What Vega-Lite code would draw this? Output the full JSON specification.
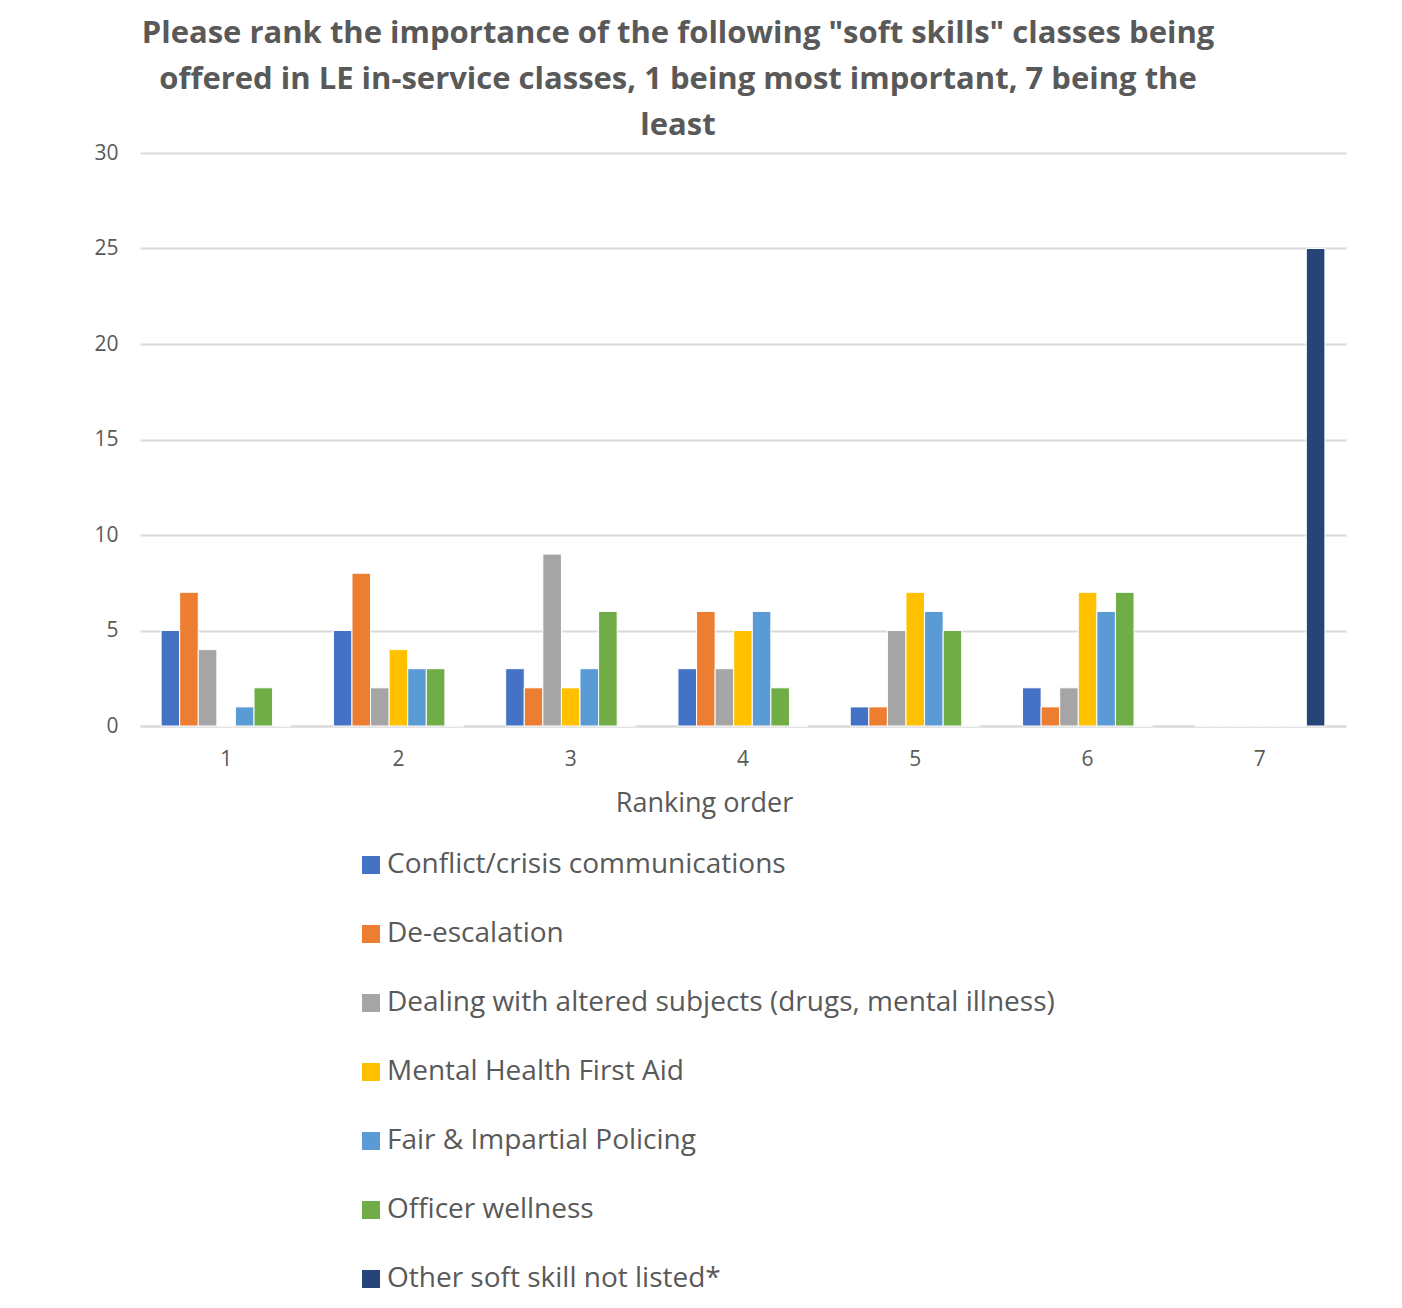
{
  "$schema": "https://vega.github.io/schema/vega-lite/v6.json",
  "width": 1206,
  "height": 573,
  "autosize": {"type": "none"},
  "padding": {"left": 140, "top": 153, "right": 56, "bottom": 582},
  "background": "white",
  "title": {
    "text": [
      "Please rank the importance of the following \"soft skills\" classes being",
      "offered in LE in-service classes, 1 being most important, 7 being the",
      "least"
    ],
    "font": "Open Sans",
    "fontSize": 31,
    "fontWeight": "bold",
    "color": "#595959",
    "lineHeight": 46,
    "anchor": "middle",
    "dx": -65,
    "offset": 0
  },
  "data": {
    "values": [
      {"rank": "1", "skill": "Conflict/crisis communications", "count": 5},
      {"rank": "1", "skill": "De-escalation", "count": 7},
      {"rank": "1", "skill": "Dealing with altered subjects (drugs, mental illness)", "count": 4},
      {"rank": "1", "skill": "Mental Health First Aid", "count": 0},
      {"rank": "1", "skill": "Fair & Impartial Policing", "count": 1},
      {"rank": "1", "skill": "Officer wellness", "count": 2},
      {"rank": "1", "skill": "Other soft skill not listed*", "count": 0},
      {"rank": "2", "skill": "Conflict/crisis communications", "count": 5},
      {"rank": "2", "skill": "De-escalation", "count": 8},
      {"rank": "2", "skill": "Dealing with altered subjects (drugs, mental illness)", "count": 2},
      {"rank": "2", "skill": "Mental Health First Aid", "count": 4},
      {"rank": "2", "skill": "Fair & Impartial Policing", "count": 3},
      {"rank": "2", "skill": "Officer wellness", "count": 3},
      {"rank": "2", "skill": "Other soft skill not listed*", "count": 0},
      {"rank": "3", "skill": "Conflict/crisis communications", "count": 3},
      {"rank": "3", "skill": "De-escalation", "count": 2},
      {"rank": "3", "skill": "Dealing with altered subjects (drugs, mental illness)", "count": 9},
      {"rank": "3", "skill": "Mental Health First Aid", "count": 2},
      {"rank": "3", "skill": "Fair & Impartial Policing", "count": 3},
      {"rank": "3", "skill": "Officer wellness", "count": 6},
      {"rank": "3", "skill": "Other soft skill not listed*", "count": 0},
      {"rank": "4", "skill": "Conflict/crisis communications", "count": 3},
      {"rank": "4", "skill": "De-escalation", "count": 6},
      {"rank": "4", "skill": "Dealing with altered subjects (drugs, mental illness)", "count": 3},
      {"rank": "4", "skill": "Mental Health First Aid", "count": 5},
      {"rank": "4", "skill": "Fair & Impartial Policing", "count": 6},
      {"rank": "4", "skill": "Officer wellness", "count": 2},
      {"rank": "4", "skill": "Other soft skill not listed*", "count": 0},
      {"rank": "5", "skill": "Conflict/crisis communications", "count": 1},
      {"rank": "5", "skill": "De-escalation", "count": 1},
      {"rank": "5", "skill": "Dealing with altered subjects (drugs, mental illness)", "count": 5},
      {"rank": "5", "skill": "Mental Health First Aid", "count": 7},
      {"rank": "5", "skill": "Fair & Impartial Policing", "count": 6},
      {"rank": "5", "skill": "Officer wellness", "count": 5},
      {"rank": "5", "skill": "Other soft skill not listed*", "count": 0},
      {"rank": "6", "skill": "Conflict/crisis communications", "count": 2},
      {"rank": "6", "skill": "De-escalation", "count": 1},
      {"rank": "6", "skill": "Dealing with altered subjects (drugs, mental illness)", "count": 2},
      {"rank": "6", "skill": "Mental Health First Aid", "count": 7},
      {"rank": "6", "skill": "Fair & Impartial Policing", "count": 6},
      {"rank": "6", "skill": "Officer wellness", "count": 7},
      {"rank": "6", "skill": "Other soft skill not listed*", "count": 0},
      {"rank": "7", "skill": "Conflict/crisis communications", "count": 0},
      {"rank": "7", "skill": "De-escalation", "count": 0},
      {"rank": "7", "skill": "Dealing with altered subjects (drugs, mental illness)", "count": 0},
      {"rank": "7", "skill": "Mental Health First Aid", "count": 0},
      {"rank": "7", "skill": "Fair & Impartial Policing", "count": 0},
      {"rank": "7", "skill": "Officer wellness", "count": 0},
      {"rank": "7", "skill": "Other soft skill not listed*", "count": 25}
    ]
  },
  "mark": {"type": "bar", "stroke": "white", "strokeWidth": 1},
  "encoding": {
    "x": {
      "field": "rank",
      "type": "nominal",
      "sort": ["1", "2", "3", "4", "5", "6", "7"],
      "scale": {"paddingInner": 0.245, "paddingOuter": 0.1225},
      "axis": {
        "title": "Ranking order",
        "titleFont": "Open Sans",
        "titleFontSize": 27,
        "titleFontWeight": "normal",
        "titleColor": "#595959",
        "titleX": 564,
        "titlePadding": 21,
        "labelFont": "Open Sans",
        "labelFontSize": 21,
        "labelColor": "#595959",
        "labelAngle": 0,
        "labelPadding": 22,
        "ticks": false,
        "domainColor": "#d9d9d9",
        "domainWidth": 2
      }
    },
    "xOffset": {
      "field": "skill",
      "type": "nominal",
      "sort": [
        "Conflict/crisis communications",
        "De-escalation",
        "Dealing with altered subjects (drugs, mental illness)",
        "Mental Health First Aid",
        "Fair & Impartial Policing",
        "Officer wellness",
        "Other soft skill not listed*"
      ],
      "scale": {"paddingInner": 0, "paddingOuter": 0}
    },
    "y": {
      "field": "count",
      "type": "quantitative",
      "scale": {"domain": [0, 30]},
      "axis": {
        "title": null,
        "values": [0, 5, 10, 15, 20, 25, 30],
        "labelFont": "Open Sans",
        "labelFontSize": 21,
        "labelColor": "#595959",
        "labelPadding": 22,
        "ticks": false,
        "domain": false,
        "gridColor": "#d9d9d9",
        "gridWidth": 2
      }
    },
    "color": {
      "field": "skill",
      "type": "nominal",
      "sort": [
        "Conflict/crisis communications",
        "De-escalation",
        "Dealing with altered subjects (drugs, mental illness)",
        "Mental Health First Aid",
        "Fair & Impartial Policing",
        "Officer wellness",
        "Other soft skill not listed*"
      ],
      "scale": {
        "range": ["#4472C4", "#ED7D31", "#A5A5A5", "#FFC000", "#5B9BD5", "#70AD47", "#264478"]
      },
      "legend": {
        "title": null,
        "orient": "none",
        "legendX": 217,
        "legendY": 698,
        "direction": "vertical",
        "symbolType": "square",
        "symbolSize": 324,
        "symbolStrokeWidth": 0,
        "labelFont": "Open Sans",
        "labelFontSize": 28,
        "labelColor": "#595959",
        "labelOffset": 2,
        "labelLimit": 900,
        "rowPadding": 41
      }
    }
  },
  "config": {
    "view": {"stroke": null}
  }
}
